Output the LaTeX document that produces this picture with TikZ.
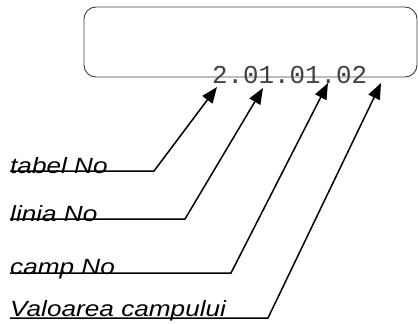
\documentclass[tikz,border=0pt]{standalone}
\usepackage{fontspec}
\usepackage{graphicx}
\setmainfont{Liberation Serif}
\newfontfamily\labfont{Liberation Sans}
\newfontfamily\codefont{Liberation Mono}
\usetikzlibrary{arrows.meta}
\tikzset{
  frame/.style={draw=black!75, line width=0.9pt, rounded corners=12pt},
  lab/.style={anchor=base west, inner sep=0pt, font=\labfont\itshape\fontsize{22}{26}\selectfont},
  code/.style={anchor=base west, inner sep=0pt, text=black!75, font=\codefont\fontsize{25.8}{30}\selectfont},
  conn/.style={draw=black, line width=1.5pt, -{Triangle[length=16pt,width=12.5pt]}},
}
\begin{document}
\begin{tikzpicture}[x=1pt,y=-1pt]
\useasboundingbox (0,0) rectangle (418,324);
\draw[frame] (84,7) rectangle (417,77);
\node[code] (val) at (212,83) {2.01.01.02};
\node[lab] (l1) at (10,173) {\scalebox{1.19}[1]{tabel No}};
\node[lab] (l2) at (10,221) {\scalebox{1.19}[1]{linia No}};
\node[lab] (l3) at (10,274) {\scalebox{1.19}[1]{camp No}};
\node[lab] (l4) at (10,316) {\scalebox{1.19}[1]{Valoarea campului}};
\coordinate (s1) at (10,171);
\coordinate (s2) at (10,219);
\coordinate (s3) at (10,273);
\coordinate (s4) at (10,318);
\coordinate (b1) at (154,171);
\coordinate (b2) at (185,219);
\coordinate (b3) at (231,273);
\coordinate (b4) at (268,318);
\coordinate (p1) at (217,87);
\coordinate (p2) at (263,88);
\coordinate (p3) at (328,83);
\coordinate (p4) at (381,83);
\draw[conn] (s1) -- (b1) -- (p1);
\draw[conn] (s2) -- (b2) -- (p2);
\draw[conn] (s3) -- (b3) -- (p3);
\draw[conn] (s4) -- (b4) -- (p4);
\end{tikzpicture}
\end{document}
